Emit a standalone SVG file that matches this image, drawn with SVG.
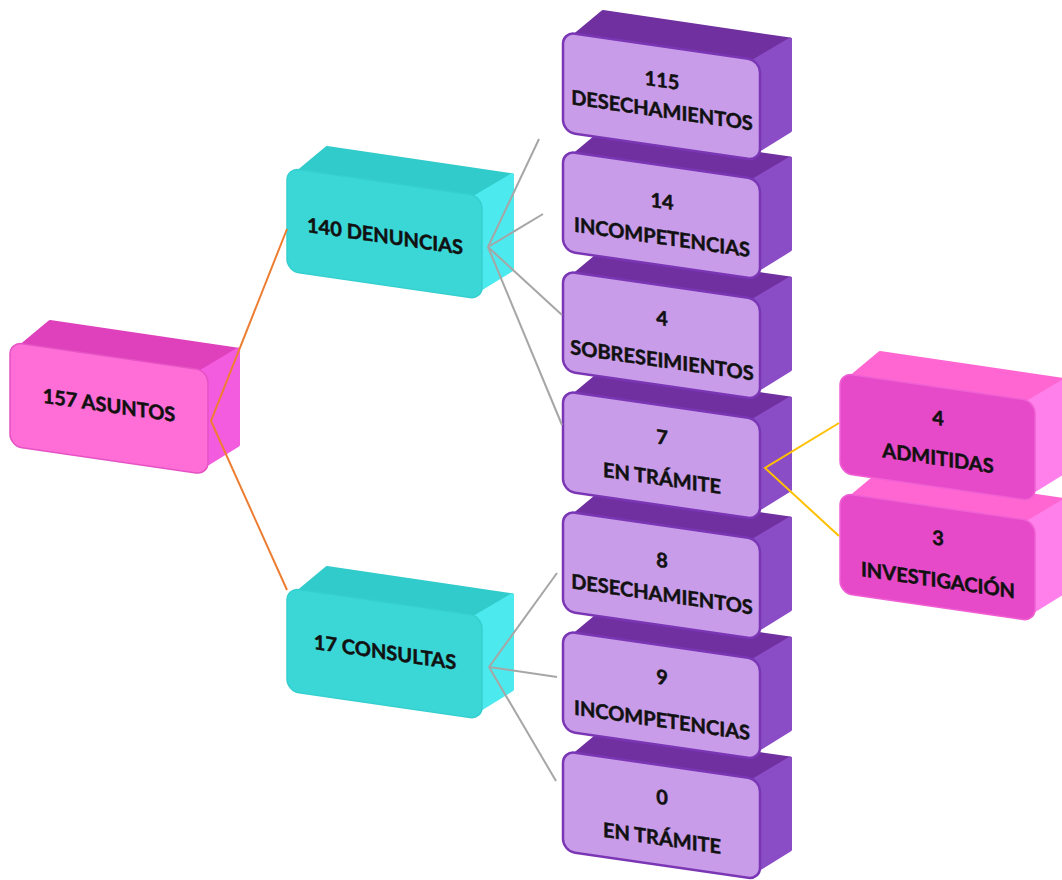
<svg xmlns="http://www.w3.org/2000/svg" width="1062" height="880" viewBox="0 0 1062 880">
<style>
.t{font-family:Lato,"Open Sans","Liberation Sans",sans-serif;font-weight:bold;font-size:20px;fill:#111;stroke:#111;stroke-width:0.5;text-anchor:middle}
.pkTop{fill:#DF40BC;stroke:#DF40BC;stroke-width:4;stroke-linejoin:round}
.pkSide{fill:#F45CE0;stroke:#F45CE0;stroke-width:4;stroke-linejoin:round}
.pkFront{fill:#FF6DD7;stroke:#E452C4;stroke-width:1.5}
.cyTop{fill:#31CBCB;stroke:#31CBCB;stroke-width:4;stroke-linejoin:round}
.cySide{fill:#4CEAEE;stroke:#4CEAEE;stroke-width:4;stroke-linejoin:round}
.cyFront{fill:#3BD7D7;stroke:#36CFCF;stroke-width:1.5}
.puTop{fill:#7030A0;stroke:#7030A0;stroke-width:4;stroke-linejoin:round}
.puSide{fill:#8A4DC6;stroke:#8A4DC6;stroke-width:4;stroke-linejoin:round}
.puFront{fill:#C89CE8;stroke:#7A36B4;stroke-width:2.5}
.mgTop{fill:#FF66D2;stroke:#FF66D2;stroke-width:4;stroke-linejoin:round}
.mgSide{fill:#FF80EA;stroke:#FF80EA;stroke-width:4;stroke-linejoin:round}
.mgFront{fill:#E64AC8;stroke:#F060D4;stroke-width:1.5}
.c{fill:none;stroke-width:2}
</style>
<g id="n-asuntos" transform="translate(10,342)">
  <polygon class="pkTop" points="4,10 40,-20 228,7.7 198,36.7"/>
  <polygon class="pkSide" points="186,32.7 228,7.7 228,102.7 186,128.7"/>
  <g transform="skewY(8.25)">
    <rect class="pkFront" x="0" y="0" width="198" height="104" rx="12"/>
    <text class="t" x="99" y="56">157 ASUNTOS</text>
  </g>
</g>
<g id="n-denuncias" transform="translate(287,168)">
  <polygon class="cyTop" points="4,10 40,-20 225,7.3 195,36.3"/>
  <polygon class="cySide" points="183,32.3 225,7.3 225,101.3 183,127.3"/>
  <g transform="skewY(8.25)">
    <rect class="cyFront" x="0" y="0" width="195" height="103" rx="12"/>
    <text class="t" x="98" y="61">140 DENUNCIAS</text>
  </g>
</g>
<g id="n-consultas" transform="translate(287,588)">
  <polygon class="cyTop" points="4,10 40,-20 225,7.3 195,36.3"/>
  <polygon class="cySide" points="183,32.3 225,7.3 225,101.3 183,127.3"/>
  <g transform="skewY(8.25)">
    <rect class="cyFront" x="0" y="0" width="195" height="103" rx="12"/>
    <text class="t" x="98" y="57">17 CONSULTAS</text>
  </g>
</g>
<g id="n-c-tramite" transform="translate(563,751)">
  <polygon class="puTop" points="4,10 40,-20 227,7.6 197,36.6"/>
  <polygon class="puSide" points="185,32.6 227,7.6 227,98.6 185,124.6"/>
  <g transform="skewY(8.25)">
    <rect class="puFront" x="0" y="0" width="197" height="100" rx="12"/>
    <text class="t" x="99" y="39">0</text>
    <text class="t" x="99" y="80">EN TRÁMITE</text>
  </g>
</g>
<g id="n-c-incompetencias" transform="translate(563,631)">
  <polygon class="puTop" points="4,10 40,-20 227,7.6 197,36.6"/>
  <polygon class="puSide" points="185,32.6 227,7.6 227,98.6 185,124.6"/>
  <g transform="skewY(8.25)">
    <rect class="puFront" x="0" y="0" width="197" height="100" rx="12"/>
    <text class="t" x="99" y="39">9</text>
    <text class="t" x="99" y="82">INCOMPETENCIAS</text>
  </g>
</g>
<g id="n-c-desechamientos" transform="translate(563,511)">
  <polygon class="puTop" points="4,10 40,-20 227,7.6 197,36.6"/>
  <polygon class="puSide" points="185,32.6 227,7.6 227,98.6 185,124.6"/>
  <g transform="skewY(8.25)">
    <rect class="puFront" x="0" y="0" width="197" height="100" rx="12"/>
    <text class="t" x="99" y="42">8</text>
    <text class="t" x="99" y="76">DESECHAMIENTOS</text>
  </g>
</g>
<g id="n-d-tramite" transform="translate(563,391)">
  <polygon class="puTop" points="4,10 40,-20 227,7.6 197,36.6"/>
  <polygon class="puSide" points="185,32.6 227,7.6 227,98.6 185,124.6"/>
  <g transform="skewY(8.25)">
    <rect class="puFront" x="0" y="0" width="197" height="100" rx="12"/>
    <text class="t" x="99" y="39">7</text>
    <text class="t" x="99" y="80">EN TRÁMITE</text>
  </g>
</g>
<g id="n-d-sobreseimientos" transform="translate(563,271)">
  <polygon class="puTop" points="4,10 40,-20 227,7.6 197,36.6"/>
  <polygon class="puSide" points="185,32.6 227,7.6 227,98.6 185,124.6"/>
  <g transform="skewY(8.25)">
    <rect class="puFront" x="0" y="0" width="197" height="100" rx="12"/>
    <text class="t" x="99" y="40">4</text>
    <text class="t" x="99" y="82">SOBRESEIMIENTOS</text>
  </g>
</g>
<g id="n-d-incompetencias" transform="translate(563,151)">
  <polygon class="puTop" points="4,10 40,-20 227,7.6 197,36.6"/>
  <polygon class="puSide" points="185,32.6 227,7.6 227,98.6 185,124.6"/>
  <g transform="skewY(8.25)">
    <rect class="puFront" x="0" y="0" width="197" height="100" rx="12"/>
    <text class="t" x="99" y="43">14</text>
    <text class="t" x="99" y="79">INCOMPETENCIAS</text>
  </g>
</g>
<g id="n-d-desechamientos" transform="translate(563,32)">
  <polygon class="puTop" points="4,10 40,-20 227,7.6 197,36.6"/>
  <polygon class="puSide" points="185,32.6 227,7.6 227,98.6 185,124.6"/>
  <g transform="skewY(8.25)">
    <rect class="puFront" x="0" y="0" width="197" height="100" rx="12"/>
    <text class="t" x="99" y="41">115</text>
    <text class="t" x="99" y="71">DESECHAMIENTOS</text>
  </g>
</g>
<g id="n-investigacion" transform="translate(840,493)">
  <polygon class="mgTop" points="4,10 40,-20 225,7.3 195,36.3"/>
  <polygon class="mgSide" points="183,32.3 225,7.3 225,98.3 183,124.3"/>
  <g transform="skewY(8.25)">
    <rect class="mgFront" x="0" y="0" width="195" height="100" rx="12"/>
    <text class="t" x="98" y="38">3</text>
    <text class="t" x="98" y="80">INVESTIGACIÓN</text>
  </g>
</g>
<g id="n-admitidas" transform="translate(840,373)">
  <polygon class="mgTop" points="4,10 40,-20 225,7.3 195,36.3"/>
  <polygon class="mgSide" points="183,32.3 225,7.3 225,98.3 183,124.3"/>
  <g transform="skewY(8.25)">
    <rect class="mgFront" x="0" y="0" width="195" height="100" rx="12"/>
    <text class="t" x="98" y="38">4</text>
    <text class="t" x="98" y="78">ADMITIDAS</text>
  </g>
</g>
<g id="connectors">
  <polyline class="c" stroke="#ED7D31" points="287,229 211,421 287,590"/>
  <line class="c" stroke="#A6A6A6" x1="488" y1="247" x2="539" y2="139"/>
  <line class="c" stroke="#A6A6A6" x1="488" y1="247" x2="543" y2="214"/>
  <line class="c" stroke="#A6A6A6" x1="488" y1="247" x2="562" y2="315"/>
  <line class="c" stroke="#A6A6A6" x1="488" y1="247" x2="562" y2="425"/>
  <line class="c" stroke="#A6A6A6" x1="489" y1="667" x2="557" y2="573"/>
  <line class="c" stroke="#A6A6A6" x1="489" y1="667" x2="557" y2="677"/>
  <line class="c" stroke="#A6A6A6" x1="489" y1="667" x2="556" y2="781"/>
  <polyline class="c" stroke="#FFC000" points="839,423 765,468 839,536"/>
</g>
</svg>
